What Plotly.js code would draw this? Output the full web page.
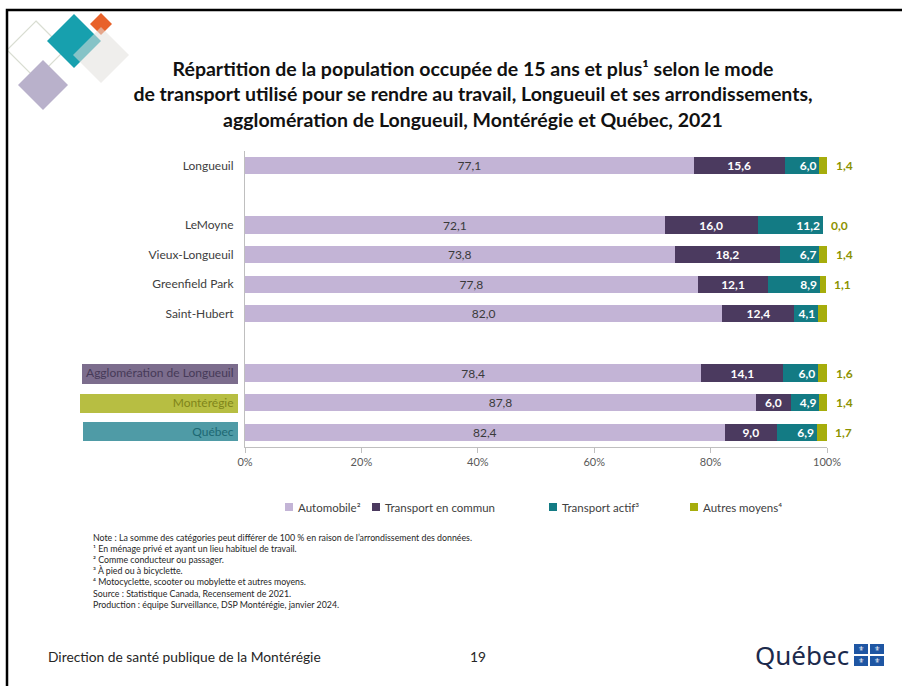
<!DOCTYPE html>
<html>
<head>
<meta charset="utf-8">
<script src="https://cdn.plot.ly/plotly-3.0.1.min.js"></script>
<style>
html,body{margin:0;padding:0;background:#fff;}
#chart{width:902px;height:686px;}
</style>
</head>
<body>
<div id="chart"></div>
<script>
// ---- Data ----
const categories = ['Longueuil', ' ', 'LeMoyne', 'Vieux-Longueuil', 'Greenfield Park', 'Saint-Hubert', '  ', 'Agglomération de Longueuil', 'Montérégie', 'Québec'];
const automobile      = [77.1, null, 72.1, 73.8, 77.8, 82.0, null, 78.4, 87.8, 82.4];
const transportCommun = [15.6, null, 16.0, 18.2, 12.1, 12.4, null, 14.1, 6.0, 9.0];
const transportActif  = [6.0, null, 11.2, 6.7, 8.9, 4.1, null, 6.0, 4.9, 6.9];
const autresMoyens    = [1.4, null, 0.0, 1.4, 1.1, 1.5, null, 1.6, 1.4, 1.7];
const autresLabelShown = [true, false, true, true, true, false, false, true, true, true];
const seriesNames = ['Automobile²', 'Transport en commun', 'Transport actif³', 'Autres moyens⁴'];
const xTickValues = [0, 20, 40, 60, 80, 100];
const xTickLabels = ['0%', '20%', '40%', '60%', '80%', '100%'];
const xRange = [0, 100];

const titleText = 'Répartition de la population occupée de 15 ans et plus¹ selon le mode<br>de transport utilisé pour se rendre au travail, Longueuil et ses arrondissements,<br>agglomération de Longueuil, Montérégie et Québec, 2021';
const noteLines = [
  'Note : La somme des catégories peut différer de 100 % en raison de l\u2019arrondissement des données.',
  '¹ En ménage privé et ayant un lieu habituel de travail.',
  '² Comme conducteur ou passager.',
  '³ À pied ou à bicyclette.',
  '⁴ Motocyclette, scooter ou mobylette et autres moyens.',
  'Source : Statistique Canada, Recensement de 2021.',
  'Production : équipe Surveillance, DSP Montérégie, janvier 2024.'
];

// ---- Styles ----
const colors = ['#c3b4d6', '#4b3a5f', '#137b84', '#a6ad0c'];
const FONT = 'Lato, "Open Sans", sans-serif';
const W = 902, H = 686;
const M = {l: 245, r: 75, t: 151, b: 239};
const PW = W - M.l - M.r, PH = H - M.t - M.b;
const px = x => (x - M.l) / PW;
const py = y => (H - M.b - y) / PH;

const fmt = v => (v === null ? '' : v.toFixed(1).replace('.', ','));

const baseTrace = (name, vals, color) => ({
  type: 'bar', orientation: 'h', name: name,
  x: vals, y: categories,
  marker: {color: color, line: {width: 0}},
  hoverinfo: 'skip', showlegend: false, cliponaxis: false,
  constraintext: 'none'
});

const traces = [
  Object.assign(baseTrace(seriesNames[0], automobile, colors[0]), {
    text: automobile.map(fmt), textposition: 'inside', insidetextanchor: 'middle',
    textfont: {family: FONT, size: 12, color: '#3a3a3a'}
  }),
  Object.assign(baseTrace(seriesNames[1], transportCommun, colors[1]), {
    text: transportCommun.map(fmt), textposition: 'inside', insidetextanchor: 'middle',
    textfont: {family: FONT, size: 12, color: '#ffffff', weight: 700}
  }),
  Object.assign(baseTrace(seriesNames[2], transportActif, colors[2]), {
    text: transportActif.map(fmt), textposition: 'inside', insidetextanchor: 'end',
    textfont: {family: FONT, size: 12, color: '#ffffff', weight: 700}
  }),
  Object.assign(baseTrace(seriesNames[3], autresMoyens, colors[3]), {
    textposition: 'none'
  })
];

// y tick labels (highlighted groups get coloured text)
const labelColors = {
  'Agglomération de Longueuil': '#463a58',
  'Montérégie': '#7f851a',
  'Québec': '#1d6873'
};
const tickText = categories.map(c => labelColors[c] ? '<span style="color:' + labelColors[c] + '">' + c + '</span>' : c);

const shapes = [];
const annotations = [];

// highlighted label boxes
const boxes = [
  {x0: 82, x1: 238, y0: 364, y1: 384, color: '#7c6d8d'},
  {x0: 80, x1: 238, y0: 394, y1: 413, color: '#b7be42'},
  {x0: 83, x1: 238, y0: 422, y1: 441, color: '#4f9ba6'}
];
boxes.forEach(b => shapes.push({type: 'rect', xref: 'paper', yref: 'paper', x0: px(b.x0), x1: px(b.x1), y0: py(b.y1), y1: py(b.y0), fillcolor: b.color, line: {width: 0}, layer: 'below'}));

// "Autres moyens" outside labels (placed at the end of each stacked bar)
categories.forEach((c, i) => {
  if (!autresLabelShown[i]) return;
  const total = automobile[i] + transportCommun[i] + transportActif[i] + autresMoyens[i];
  annotations.push({xref: 'paper', yref: 'y', x: (total - xRange[0]) / (xRange[1] - xRange[0]), y: c, text: fmt(autresMoyens[i]), showarrow: false,
    xanchor: 'left', xshift: 6, font: {family: FONT, size: 12, color: '#8c9200', weight: 700}});
});

// custom legend
const legendX = [285, 372, 549, 690];
const legendY = 507;
seriesNames.forEach((n, i) => {
  shapes.push({type: 'rect', xref: 'paper', yref: 'paper', x0: px(legendX[i]), x1: px(legendX[i] + 8), y0: py(legendY + 4), y1: py(legendY - 4), fillcolor: colors[i], line: {width: 0}});
  annotations.push({xref: 'paper', yref: 'paper', x: px(legendX[i] + 11), y: py(legendY), text: n, showarrow: false, xanchor: 'left', yanchor: 'middle', font: {family: FONT, size: 11.5, color: '#404040'}});
});

// notes
noteLines.forEach((t, i) => {
  annotations.push({xref: 'paper', yref: 'paper', x: px(91), y: py(537 + i * 11.2), text: t, showarrow: false, xanchor: 'left', yanchor: 'middle', font: {family: FONT, size: 8.8, color: '#262626'}});
});

// footer
annotations.push({xref: 'paper', yref: 'paper', x: px(46), y: py(656), text: 'Direction de santé publique de la Montérégie', showarrow: false, xanchor: 'left', yanchor: 'middle', font: {family: FONT, size: 13.8, color: '#262626'}});
annotations.push({xref: 'paper', yref: 'paper', x: px(478), y: py(656), text: '19', showarrow: false, xanchor: 'center', yanchor: 'middle', font: {family: FONT, size: 13.8, color: '#262626'}});

// Québec logo
annotations.push({xref: 'paper', yref: 'paper', x: px(851), y: py(655), text: 'Québec', showarrow: false, xanchor: 'right', yanchor: 'middle', font: {family: '"Noto Sans", sans-serif', size: 26, color: '#1c2a4c'}});
const flagCells = [[854, 644], [870, 644], [854, 656], [870, 656]];
flagCells.forEach(f => {
  shapes.push({type: 'rect', xref: 'paper', yref: 'paper', x0: px(f[0]), x1: px(f[0] + 14), y0: py(f[1] + 10), y1: py(f[1]), fillcolor: '#1f56a3', line: {width: 0}});
  annotations.push({xref: 'paper', yref: 'paper', x: px(f[0] + 7), y: py(f[1] + 5), text: '⚜', showarrow: false, xanchor: 'center', yanchor: 'middle', font: {family: '"DejaVu Sans"', size: 7, color: '#ffffff'}});
});

// top-left decorative logo (diamonds)
function diamond(cx, cy, r) {
  return 'M' + px(cx) + ',' + py(cy - r) + ' L' + px(cx + r) + ',' + py(cy) + ' L' + px(cx) + ',' + py(cy + r) + ' L' + px(cx - r) + ',' + py(cy) + ' Z';
}
shapes.push({type: 'path', xref: 'paper', yref: 'paper', path: diamond(36, 50, 29), fillcolor: 'rgba(0,0,0,0)', line: {color: '#d9ddd2', width: 1.2}});
shapes.push({type: 'path', xref: 'paper', yref: 'paper', path: diamond(43, 85, 25), fillcolor: '#b9b1cb', line: {width: 0}});
shapes.push({type: 'path', xref: 'paper', yref: 'paper', path: diamond(74, 41, 27), fillcolor: '#17a0ae', line: {width: 0}});
shapes.push({type: 'path', xref: 'paper', yref: 'paper', path: diamond(101, 24, 11), fillcolor: '#e8622a', line: {width: 0}});
shapes.push({type: 'path', xref: 'paper', yref: 'paper', path: diamond(101, 55, 28), fillcolor: 'rgba(226,224,221,0.55)', line: {width: 0}});

// page frame
shapes.push({type: 'rect', xref: 'paper', yref: 'paper', x0: px(7), x1: px(930), y0: py(720), y1: py(10), fillcolor: 'rgba(0,0,0,0)', line: {color: '#000000', width: 2.5}});

const layout = {
  width: W, height: H,
  margin: M,
  paper_bgcolor: '#ffffff', plot_bgcolor: '#ffffff',
  barmode: 'stack', bargap: 0.42,
  showlegend: false,
  title: {
    text: titleText, xref: 'container', yref: 'container', x: 473 / W, xanchor: 'center',
    y: 1 - 76 / H, yanchor: 'top',
    font: {family: FONT, size: 19.5, color: '#111111', weight: 700}
  },
  xaxis: {
    range: xRange, tickmode: 'array', tickvals: xTickValues, ticktext: xTickLabels,
    showgrid: false, zeroline: false, showline: true, linecolor: '#bfbfbf', linewidth: 1,
    ticks: 'outside', ticklen: 5, tickcolor: '#bfbfbf',
    tickfont: {family: FONT, size: 11, color: '#595959'}, fixedrange: true
  },
  yaxis: {
    type: 'category', categoryorder: 'array', categoryarray: categories, autorange: 'reversed',
    tickmode: 'array', tickvals: categories, ticktext: tickText,
    showgrid: false, zeroline: false, showline: true, linecolor: '#bfbfbf', linewidth: 1,
    ticks: 'outside', ticklen: 8, tickcolor: 'rgba(0,0,0,0)',
    tickfont: {family: FONT, size: 12, color: '#404040'}, fixedrange: true
  },
  shapes: shapes,
  annotations: annotations
};

Plotly.newPlot('chart', traces, layout, {displayModeBar: false, staticPlot: true});
</script>
</body>
</html>
